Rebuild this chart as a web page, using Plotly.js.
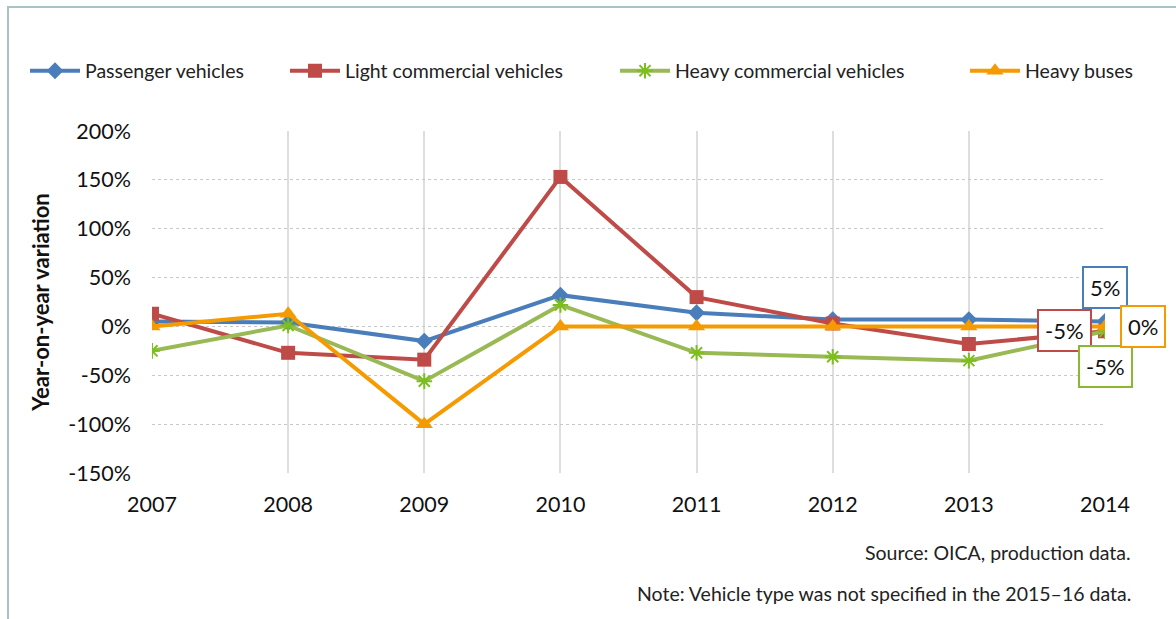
<!DOCTYPE html>
<html>
<head>
<meta charset="utf-8">
<script src="https://cdn.plot.ly/plotly-3.0.1.min.js"></script>
<style>
html,body{margin:0;padding:0;background:#fff;}
#wrap{position:relative;width:1176px;height:619px;overflow:hidden;}
#chart{position:absolute;left:0;top:0;width:1176px;height:619px;}
#frame{position:absolute;left:7px;top:6px;width:1200px;height:700px;border-top:2px solid #a9c3c3;border-left:2px solid #a9c3c3;pointer-events:none;}
</style>
</head>
<body>
<div id="wrap"><div id="chart"></div><div id="frame"></div></div>
<script>
const years = [2007, 2008, 2009, 2010, 2011, 2012, 2013, 2014];
const passenger = [5, 4, -15, 32, 14, 7, 7, 5];
const lightCommercial = [13, -27, -34, 153, 30, 3, -18, -5];
const heavyCommercial = [-25, 1, -56, 22, -27, -31, -35, -5];
const heavyBuses = [0, 13, -100, 0, 0, 0, 0, 0];
const seriesNames = ['Passenger vehicles', 'Light commercial vehicles', 'Heavy commercial vehicles', 'Heavy buses'];
const yTicks = [-150, -100, -50, 0, 50, 100, 150, 200];
const yTickLabels = ['-150%', '-100%', '-50%', '0%', '50%', '100%', '150%', '200%'];
const lastLabels = ['5%', '-5%', '-5%', '0%'];

const FONT = 'Lato, "Open Sans", sans-serif';

const traces = [
  {x: years, y: passenger, name: seriesNames[0], mode: 'lines+markers', legend: 'legend',
   line: {color: '#4a7ebb', width: 4}, marker: {symbol: 'diamond', size: 13, color: '#4a7ebb'}},
  {x: years, y: lightCommercial, name: seriesNames[1], mode: 'lines+markers', legend: 'legend2',
   line: {color: '#be4b48', width: 4}, marker: {symbol: 'square', size: 14, color: '#be4b48'}},
  {x: years, y: heavyCommercial, name: seriesNames[2], mode: 'lines+markers', legend: 'legend3',
   line: {color: '#98b954', width: 4}, marker: {symbol: 'asterisk-open', size: 13, color: '#7cbf1c', line: {color: '#7cbf1c', width: 2}}},
  {x: years, y: heavyBuses, name: seriesNames[3], mode: 'lines+markers', legend: 'legend4',
   line: {color: '#f59a00', width: 4}, marker: {symbol: 'triangle-up', size: 15, color: '#f59a00'}}
];

function lg(xpx) {
  return {x: (xpx - 152) / 953, y: (473 - 71) / 342, xanchor: 'left', yanchor: 'middle',
    bgcolor: 'rgba(0,0,0,0)', font: {family: FONT, size: 19.5, color: '#222'}, itemwidth: 50};
}

const last = years.length - 1;
const boxColors = ['#4a7ebb', '#be4b48', '#8ab832', '#f59a00'];
const shifts = [[0, 34], [-41, 1], [0, -35], [38, 0]];
const vals = [passenger[last], lightCommercial[last], heavyCommercial[last], heavyBuses[last]];
const annotations = lastLabels.map((t, i) => ({
  x: years[last], y: vals[i], xref: 'x', yref: 'y', text: t, showarrow: false,
  xshift: shifts[i][0], yshift: shifts[i][1], bgcolor: '#fff', bordercolor: boxColors[i],
  borderwidth: 2, borderpad: 6, font: {family: FONT, size: 22, color: '#111'}
}));
annotations.push({xref: 'paper', yref: 'paper', x: (1133 - 152) / 953, y: (473 - 552) / 342,
  xanchor: 'right', yanchor: 'middle', showarrow: false, text: 'Source: OICA, production data.',
  font: {family: FONT, size: 19.5, color: '#222'}});
annotations.push({xref: 'paper', yref: 'paper', x: (1133 - 152) / 953, y: (473 - 593) / 342,
  xanchor: 'right', yanchor: 'middle', showarrow: false, text: 'Note: Vehicle type was not specified in the 2015–16 data.',
  font: {family: FONT, size: 19.5, color: '#222'}});

const layout = {
  width: 1176, height: 619,
  margin: {l: 152, r: 71, t: 131, b: 146},
  paper_bgcolor: '#fff', plot_bgcolor: '#fff',
  font: {family: FONT, color: '#111'},
  showlegend: true,
  legend: lg(25), legend2: lg(285), legend3: lg(615), legend4: lg(965),
  xaxis: {range: [2007, 2014], tickvals: years, ticktext: years.map(String),
    showgrid: true, gridcolor: '#dedede', gridwidth: 2, zeroline: false, showline: false,
    ticks: '', ticklabelstandoff: 16, tickfont: {family: FONT, size: 21.5, color: '#111'}, fixedrange: true},
  yaxis: {range: [-150, 200], tickvals: yTicks, ticktext: yTickLabels,
    showgrid: true, gridcolor: '#c8c8c8', gridwidth: 1, griddash: 'dot', zeroline: false, showline: false,
    ticks: '', ticklabelstandoff: 20, tickfont: {family: FONT, size: 21.5, color: '#111'},
    title: {text: '<b>Year-on-year variation</b>', font: {family: FONT, size: 22, color: '#111'}, standoff: 12},
    fixedrange: true},
  annotations: annotations
};

Plotly.newPlot('chart', traces, layout, {displayModeBar: false, staticPlot: true});
</script>
</body>
</html>
